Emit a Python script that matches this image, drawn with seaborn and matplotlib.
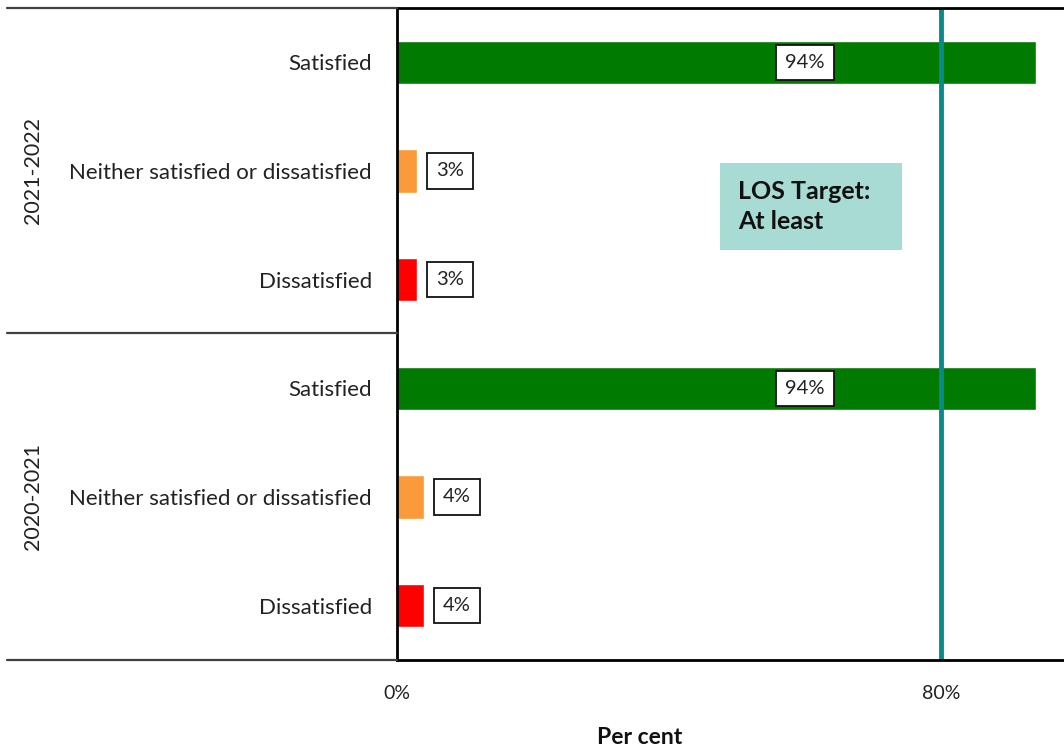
import matplotlib
matplotlib.use("Agg")
import matplotlib.pyplot as plt
from matplotlib.patches import Rectangle
from matplotlib.lines import Line2D
import seaborn as sns
import pandas as pd

# Survey results, top to bottom
years = ["2021-2022", "2020-2021"]
responses = ["Satisfied", "Neither satisfied or dissatisfied", "Dissatisfied"]
values_2021_2022 = [94, 3, 3]
values_2020_2021 = [94, 4, 4]
target = 80
x_ticks = [0, 80]
x_tick_labels = ["0%", "80%"]

colors = {"Satisfied": "#007a00",
          "Neither satisfied or dissatisfied": "#fb9a3a",
          "Dissatisfied": "#ff0000"}

rows = []
for year, vals in zip(years, [values_2021_2022, values_2020_2021]):
    for resp, v in zip(responses, vals):
        rows.append({"row": f"{year} {resp}", "year": year, "response": resp, "value": v})
df = pd.DataFrame(rows)

sns.set_theme(style="white")
plt.rcParams["font.family"] = ["Lato", "DejaVu Sans"]

W, H = 1064, 753
fig = plt.figure(figsize=(W / 100, H / 100), dpi=100)
ax_left, ax_right, ax_top, ax_bottom = 397, 1064, 8, 660
ax = fig.add_axes([ax_left / W, 1 - ax_bottom / H,
                   (ax_right - ax_left) / W, (ax_bottom - ax_top) / H])

sns.barplot(data=df, x="value", y="row", hue="response", palette=colors,
            order=list(df["row"]), dodge=False, orient="h", width=0.4,
            legend=False, ax=ax, saturation=1)

ax.set_xlim(0, (ax_right - ax_left) / 6.8)
ax.set_ylim(5.5, -0.5)
ax.set_xticks(x_ticks)
ax.set_xticklabels(x_tick_labels, fontsize=14, color="#222222")
ax.set_yticks(range(len(df)))
ax.set_yticklabels(df["response"], fontsize=16, color="#222222")
ax.tick_params(axis="y", length=0, pad=18)
ax.tick_params(axis="x", length=0, pad=18)
ax.set_xlabel("")
ax.set_ylabel("")

for side in ["top", "left", "bottom"]:
    ax.spines[side].set_color("black")
    ax.spines[side].set_linewidth(2)
ax.spines["right"].set_visible(False)

# Target line
ax.axvline(target, color="#0a8a8a", lw=3.5, zorder=1)

# Value labels
for i, r in df.iterrows():
    v = r["value"]
    x = v - 34 if v > 50 else v + 4.8
    ax.text(x, i, f"{v}%", ha="center", va="center", fontsize=14.5, color="#222222",
            bbox=dict(boxstyle="square,pad=0.45", fc="white", ec="#111111", lw=1.3),
            zorder=5)

# Target annotation box
bx0, bx1 = (720 - ax_left) / 6.8, (902 - ax_left) / 6.8
by0, by1 = (163 - ax_top) / 108.67 - 0.5, (250 - ax_top) / 108.67 - 0.5
ax.add_patch(Rectangle((bx0, by0), bx1 - bx0, by1 - by0, fc="#a7dbd4", ec="none", zorder=4))
ax.text((738 - ax_left) / 6.8, (by0 + by1) / 2, "LOS Target:\nAt least",
        ha="left", va="center", fontsize=18, fontweight="bold", color="#111111",
        linespacing=1.35, zorder=5)

# Group dividers and year labels on the left
for ypix in [8, 333, 660]:
    fig.add_artist(Line2D([7 / W, ax_left / W], [1 - ypix / H] * 2,
                          color="#404040", lw=1.6, transform=fig.transFigure))
for year, ypix in zip(years, [170, 497]):
    fig.text(33 / W, 1 - ypix / H, year, rotation=90, ha="center", va="center",
             fontsize=15.5, color="#222222")

fig.text(640 / W, 1 - 738 / H, "Per cent", ha="center", va="center",
         fontsize=16.5, fontweight="bold", color="#111111")

fig.savefig("out.png", dpi=100)
